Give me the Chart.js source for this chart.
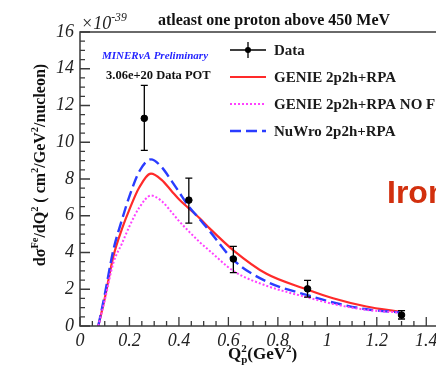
<!DOCTYPE html>
<html><head><meta charset="utf-8">
<script src="https://cdn.jsdelivr.net/npm/chart.js@4"></script>
<style>
html,body{margin:0;padding:0;overflow:hidden;background:#fff;width:436px;height:366px}
#w{position:relative;width:460px;height:366px}
</style></head>
<body><div id="w"><canvas id="c" width="460" height="366"></canvas></div>
<script>
// ---- data ----
const xCurve      = [0.074, 0.10, 0.135, 0.17, 0.20, 0.24, 0.287, 0.33, 0.37, 0.40, 0.44, 0.485, 0.525, 0.62, 0.754, 0.916, 1.023, 1.158, 1.293];
const genie       = [0,     1.5,  3.8,   5.3,  6.35, 7.55, 8.29,  7.95, 7.35, 6.9,  6.4,  5.85,  5.3,   4.12, 2.84,  2.0,   1.51,  1.06,  0.77];
const genieNoFsi  = [0,     1.4,  3.44,  4.5,  5.43, 6.45, 7.1,   6.8,  6.2,  5.72, 5.15, 4.55,  4.08,  3.0,  2.19,  1.57,  1.2,   0.88,  0.73];
const nuwro       = [0,     1.7,  4.15,  5.8,  7.07, 8.42, 9.07,  8.65, 7.9,  7.3,  6.5,  5.8,   5.15,  3.6,  2.42,  1.69,  1.28,  0.91,  0.74];
const dataX       = [0.26, 0.44, 0.62, 0.92, 1.30];
const dataY       = [11.3, 6.85, 3.65, 2.02, 0.6];
const dataErrLow  = [9.56, 5.6,  2.91, 1.57, 0.38];
const dataErrHigh = [13.1, 8.05, 4.33, 2.48, 0.84];
const xTicks      = [0, 0.2, 0.4, 0.6, 0.8, 1.0, 1.2, 1.4];
const xTickLabels = ['0', '0.2', '0.4', '0.6', '0.8', '1', '1.2', '1.4'];
const yTicks      = [0, 2, 4, 6, 8, 10, 12, 14, 16];
const yTickLabels = ['0', '2', '4', '6', '8', '10', '12', '14', '16'];
const legendLabels = ['Data', 'GENIE 2p2h+RPA', 'GENIE 2p2h+RPA NO FSI', 'NuWro 2p2h+RPA'];

const SERIF = '"Liberation Serif","Times New Roman",serif';
const AXIS_COLOR = '#3a3a3a';
const RED = '#ff2a2a', MAG = '#ff40ff', BLUE = '#2a3cff';

function pts(xs, ys){ return xs.map((x,i)=>({x:x, y:ys[i]})); }

function richWidth(ctx, segs, size, weight, style){
  let w = 0;
  for (const s of segs){
    const sz = (s.sup||s.sub) ? size*0.65 : size;
    ctx.font = `${style} ${weight} ${sz}px ${SERIF}`;
    let ww = ctx.measureText(s.t).width;
    if (s.stack){ ww = Math.max(ww, ctx.measureText(s.stack).width); }
    w += ww;
  }
  return w;
}
function drawRich(ctx, segs, x, y, size, weight, style){
  let cx = x;
  for (const s of segs){
    const sz = (s.sup||s.sub) ? size*0.65 : size;
    ctx.font = `${style} ${weight} ${sz}px ${SERIF}`;
    let dy = s.sup ? -size*0.42 : (s.sub ? size*0.22 : 0);
    ctx.fillText(s.t, cx, y + dy);
    let ww = ctx.measureText(s.t).width;
    if (s.stack){
      ctx.fillText(s.stack, cx, y + size*0.25);
      ww = Math.max(ww, ctx.measureText(s.stack).width);
    }
    cx += ww;
  }
}

const deco = {
  id: 'deco',
  afterDatasetsDraw(chart){
    const {ctx, chartArea:a, scales:{x, y}} = chart;
    ctx.save();
    // error bars
    ctx.strokeStyle = '#000'; ctx.lineWidth = 1.3;
    for (let i=0;i<dataX.length;i++){
      const px = x.getPixelForValue(dataX[i]);
      const p1 = y.getPixelForValue(dataErrLow[i]);
      const p2 = y.getPixelForValue(dataErrHigh[i]);
      ctx.beginPath();
      ctx.moveTo(px, p1); ctx.lineTo(px, p2);
      ctx.moveTo(px-3.5, p1); ctx.lineTo(px+3.5, p1);
      ctx.moveTo(px-3.5, p2); ctx.lineTo(px+3.5, p2);
      ctx.stroke();
    }
    // frame
    ctx.strokeStyle = AXIS_COLOR; ctx.lineWidth = 1.5;
    ctx.strokeRect(a.left, a.top, a.right - a.left, a.bottom - a.top);
    // ticks (inward)
    ctx.lineWidth = 1.3;
    ctx.beginPath();
    for (let v=0; v<=16.001; v+=0.5){
      const py = y.getPixelForValue(v);
      const major = Math.abs(v/2 - Math.round(v/2)) < 1e-6;
      ctx.moveTo(a.left, py); ctx.lineTo(a.left + (major?10:5), py);
    }
    for (let v=0; v<=1.5001; v+=0.05){
      const px = x.getPixelForValue(v);
      const major = Math.abs(v/0.2 - Math.round(v/0.2)) < 1e-6;
      ctx.moveTo(px, a.bottom); ctx.lineTo(px, a.bottom - (major?9:5));
    }
    ctx.stroke();

    // title
    ctx.fillStyle = '#111';
    ctx.textBaseline = 'alphabetic';
    ctx.textAlign = 'center';
    ctx.font = `bold 16px ${SERIF}`;
    ctx.fillText('atleast one proton above 450 MeV', 274, 25);
    ctx.textAlign = 'left';
    // exponent
    ctx.fillStyle = '#222';
    drawRich(ctx, [{t:'\u00d710'},{t:'-39',sup:true}], 81, 29, 18, 'normal', 'italic');

    // annotations
    ctx.fillStyle = '#2424ff';
    ctx.font = `italic bold 11px ${SERIF}`;
    ctx.fillText('MINERvA Preliminary', 102, 59);
    ctx.fillStyle = '#111';
    ctx.font = `bold 12.5px ${SERIF}`;
    ctx.fillText('3.06e+20 Data POT', 106, 79);

    // legend
    const lx1 = 230, lx2 = 266, tx = 274;
    const ly = [50, 77, 104, 131];
    ctx.strokeStyle = '#000'; ctx.lineWidth = 1.3;
    ctx.beginPath();
    ctx.moveTo(lx1, ly[0]); ctx.lineTo(lx2, ly[0]);
    ctx.moveTo((lx1+lx2)/2, ly[0]-8); ctx.lineTo((lx1+lx2)/2, ly[0]+8);
    ctx.stroke();
    ctx.fillStyle = '#000';
    ctx.beginPath(); ctx.arc((lx1+lx2)/2, ly[0], 3, 0, Math.PI*2); ctx.fill();
    const styles = [[RED, [], 2.2], [MAG, [2,2], 2], [BLUE, [11,5], 2.4]];
    for (let k=0;k<3;k++){
      ctx.strokeStyle = styles[k][0]; ctx.setLineDash(styles[k][1]); ctx.lineWidth = styles[k][2];
      ctx.beginPath(); ctx.moveTo(lx1, ly[k+1]); ctx.lineTo(lx2, ly[k+1]); ctx.stroke();
    }
    ctx.setLineDash([]);
    ctx.fillStyle = '#1a1a1a';
    ctx.font = `bold 15px ${SERIF}`;
    ctx.textBaseline = 'middle';
    for (let k=0;k<4;k++) ctx.fillText(legendLabels[k], tx, ly[k]+1);

    // Iron
    ctx.textBaseline = 'alphabetic';
    ctx.fillStyle = '#d2300e';
    ctx.font = `bold 32px "Liberation Sans", Arial, sans-serif`;
    ctx.fillText('Iron', 387, 203);

    // y axis title
    ctx.fillStyle = '#111';
    const ysegs = [{t:'d\u03c3'},{t:'Fe',sup:true},{t:'/dQ'},{t:'2',sup:true},{t:' ( cm'},{t:'2',sup:true},{t:'/GeV'},{t:'2',sup:true},{t:'/nucleon)'}];
    ctx.save();
    ctx.translate(45, 165);
    ctx.rotate(-Math.PI/2);
    const yw = richWidth(ctx, ysegs, 16, 'bold', 'normal');
    drawRich(ctx, ysegs, -yw/2, 0, 16, 'bold', 'normal');
    ctx.restore();
    // x axis title
    const xsegs = [{t:'Q'},{t:'2',sup:true,stack:'p'},{t:'(GeV'},{t:'2',sup:true},{t:')'}];
    drawRich(ctx, xsegs, 228, 359, 17, 'bold', 'normal');
    ctx.restore();
  }
};

const lineDs = (label, ys, color, dash, w) => ({
  label, data: pts(xCurve, ys), showLine: true, borderColor: color, backgroundColor: color,
  borderWidth: w, borderDash: dash, pointRadius: 0, cubicInterpolationMode: 'monotone', fill: false, order: 2
});

new Chart(document.getElementById('c'), {
  type: 'scatter',
  data: {
    datasets: [
      lineDs(legendLabels[2], genieNoFsi, MAG, [2,2], 2),
      lineDs(legendLabels[3], nuwro, BLUE, [11,5], 2.4),
      lineDs(legendLabels[1], genie, RED, [], 2.2),
      { label: legendLabels[0], data: pts(dataX, dataY), showLine: false, pointRadius: 3.3,
        pointBackgroundColor: '#000', pointBorderColor: '#000', order: 1 }
    ]
  },
  options: {
    responsive: false, animation: false, devicePixelRatio: 1,
    layout: { padding: { top: 32, right: 9, left: 0, bottom: 0 } },
    plugins: { legend: { display: false }, tooltip: { enabled: false }, title: { display: false } },
    scales: {
      x: {
        type: 'linear', min: 0, max: 1.5,
        afterBuildTicks: s => { s.ticks = xTicks.map(v => ({ value: v })); },
        afterFit: s => { s.height = 40; },
        ticks: { callback: (v, i) => xTickLabels[i], color: '#222', padding: 4, maxRotation: 0, autoSkip: false,
                 font: { family: SERIF, size: 18, style: 'italic' } },
        grid: { display: false, drawTicks: false },
        border: { display: false }
      },
      y: {
        type: 'linear', min: 0, max: 16,
        afterBuildTicks: s => { s.ticks = yTicks.map(v => ({ value: v })); },
        afterFit: s => { s.width = 80; },
        ticks: { callback: (v, i) => yTickLabels[i], color: '#222', padding: 6, autoSkip: false,
                 font: { family: SERIF, size: 18, style: 'italic' } },
        grid: { display: false, drawTicks: false },
        border: { display: false }
      }
    }
  },
  plugins: [deco]
});
</script>
</body></html>
